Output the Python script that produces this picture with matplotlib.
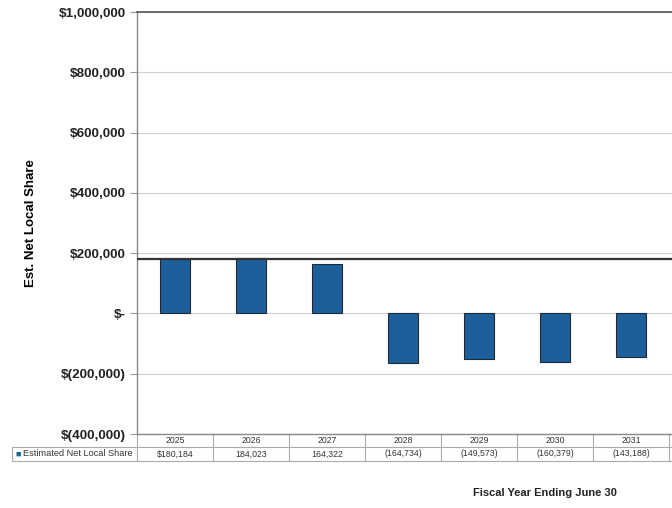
import numpy as np
import matplotlib.pyplot as plt
from matplotlib.transforms import blended_transform_factory

years = ["2025", "2026", "2027", "2028", "2029", "2030", "2031"]
values = [180184, 184023, 164322, -164734, -149573, -160379, -143188]
series_name = "Estimated Net Local Share"
yticks = [-400000, -200000, 0, 200000, 400000, 600000, 800000, 1000000]

def money(v, first=False):
    if v < 0:
        return "({:,})".format(-v)
    return ("${:,}" if first else "{:,}").format(v)

def tick_label(v):
    if v == 0:
        return "$-"
    if v < 0:
        return "$({:,})".format(-v)
    return "${:,}".format(v)

plt.rcParams['font.family'] = ['Liberation Sans', 'DejaVu Sans']

W, H = 672, 508
fig = plt.figure(figsize=(W / 100, H / 100), dpi=100)
fig.patch.set_facecolor("white")

# plot area runs past the right edge of the picture (cropped chart)
n_slots = 8
slot_px = 76
ax_l, ax_t, ax_b = 137, 12, 434
ax = fig.add_axes([ax_l / W, 1 - ax_b / H, n_slots * slot_px / W, (ax_b - ax_t) / H])

x = np.arange(len(years))
bar_color = "#1c5f9a"
ax.bar(x, values, width=0.4, color=bar_color, edgecolor="#1a2a3a", linewidth=0.8, zorder=3)
ax.axhline(values[0], color="#333333", linewidth=1.6, zorder=4)

ax.set_xlim(-0.5, n_slots - 0.5)
ax.set_ylim(yticks[0], yticks[-1])
ax.set_yticks(yticks)
ax.set_yticklabels([tick_label(v) for v in yticks], fontsize=9.7, fontweight="bold", color="#222222")
ax.set_xticks([])
ax.grid(axis="y", color="#d0d0d0", linewidth=0.8, zorder=0)
ax.tick_params(axis="y", length=5, color="#999999", width=0.8, pad=3)
for s in ["left", "bottom"]:
    ax.spines[s].set_color("#888888")
    ax.spines[s].set_linewidth(1.0)
ax.spines["top"].set_color("#555555")
ax.spines["top"].set_linewidth(1.2)
ax.spines["right"].set_visible(False)

ax.set_ylabel("Est. Net Local Share", fontsize=9.5, fontweight="bold", labelpad=16)

# data table under the plot
tr = blended_transform_factory(ax.transData, ax.transAxes)
ah = ax_b - ax_t
r1 = -13 / ah
r2 = -27 / ah
grid_kw = dict(color="#aaaaaa", linewidth=0.8, transform=tr, clip_on=False)
left_x = -0.5 - (ax_l - 12) / slot_px
ax.plot([-0.5, n_slots - 0.5], [r1, r1], **grid_kw)
ax.plot([left_x, n_slots - 0.5], [r2, r2], **grid_kw)
ax.plot([left_x, -0.5], [r1, r1], **grid_kw)
ax.plot([left_x, left_x], [r1, r2], **grid_kw)
for i in range(n_slots + 1):
    ax.plot([i - 0.5, i - 0.5], [0, r2], **grid_kw)
for i, (yr, v) in enumerate(zip(years, values)):
    ax.text(i, (0 + r1) / 2, yr, transform=tr, ha="center", va="center", fontsize=6.3, color="#333333")
    ax.text(i, (r1 + r2) / 2, money(v, i == 0), transform=tr, ha="center", va="center", fontsize=6.3, color="#333333")
ax.text(left_x + 0.05, (r1 + r2) / 2, "\u25a0", transform=tr, ha="left", va="center", fontsize=6.5, color=bar_color)
ax.text(left_x + 0.14, (r1 + r2) / 2, series_name, transform=tr, ha="left", va="center", fontsize=6.6, color="#333333")

fig.text(545 / W, 1 - 493 / H, "Fiscal Year Ending June 30", ha="center", va="center", fontsize=8, fontweight="bold", color="#222222")

fig.savefig("out.png", dpi=100)
